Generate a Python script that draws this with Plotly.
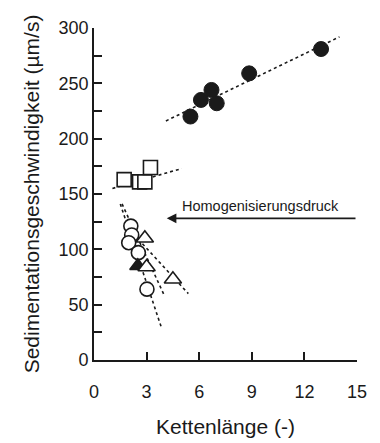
import plotly.graph_objects as go

# Data
black_x = [5.5, 6.1, 6.7, 7.0, 8.85, 12.95]
black_y = [220, 235, 244, 232, 259, 281]

square_x = [1.72, 2.6, 2.9, 3.22]
square_y = [163, 161, 161, 174]

circle_x = [2.1, 2.15, 1.98, 2.53, 3.02]
circle_y = [121, 113, 106, 97, 64]

tri_x = [2.9, 3.0, 4.5]
tri_y = [110, 84, 73]

tri_fill_x = [2.5]
tri_fill_y = [85]

# Fit lines (start/end points)
line_black_x = [4.1, 14.0]
line_black_y = [216, 292]
line_square_x = [1.05, 5.0]
line_square_y = [155, 173]
line_circle_x = [1.5, 3.83]
line_circle_y = [141, 30]
line_mid_x = [1.6, 4.02]
line_mid_y = [141, 58]
line_tri_x = [2.3, 5.38]
line_tri_y = [113, 60]

arrow_x = [15.0, 4.15]
arrow_y = [128, 128]
label_text = "Homogenisierungsdruck"

x_ticks = [0, 3, 6, 9, 12, 15]
y_ticks = [0, 50, 100, 150, 200, 250, 300]

FONT = "Liberation Sans, Arial, sans-serif"
INK = "#1a1a1a"

fig = go.Figure()

for lx, ly in [(line_black_x, line_black_y), (line_square_x, line_square_y),
               (line_circle_x, line_circle_y), (line_mid_x, line_mid_y),
               (line_tri_x, line_tri_y)]:
    fig.add_trace(go.Scatter(x=lx, y=ly, mode="lines",
                             line=dict(color=INK, width=1.6, dash="dot"),
                             hoverinfo="skip", showlegend=False))

fig.add_trace(go.Scatter(x=square_x, y=square_y, mode="markers",
                         marker=dict(symbol="square", size=14, color="white",
                                     line=dict(color=INK, width=1.6)),
                         showlegend=False))
fig.add_trace(go.Scatter(x=circle_x, y=circle_y, mode="markers",
                         marker=dict(symbol="circle", size=14, color="white",
                                     line=dict(color=INK, width=1.6)),
                         showlegend=False))
fig.add_trace(go.Scatter(x=tri_fill_x, y=tri_fill_y, mode="markers",
                         marker=dict(symbol="triangle-up", size=14, color=INK,
                                     line=dict(color=INK, width=1.6)),
                         showlegend=False))
fig.add_trace(go.Scatter(x=tri_x, y=tri_y, mode="markers",
                         marker=dict(symbol="triangle-up", size=15, color="white",
                                     line=dict(color=INK, width=1.6)),
                         showlegend=False))
fig.add_trace(go.Scatter(x=black_x, y=black_y, mode="markers",
                         marker=dict(symbol="circle", size=15, color=INK,
                                     line=dict(color=INK, width=1)),
                         showlegend=False))

fig.add_annotation(x=arrow_x[1], y=arrow_y[1], ax=arrow_x[0], ay=arrow_y[0],
                   xref="x", yref="y", axref="x", ayref="y",
                   text="", showarrow=True, arrowhead=2, arrowsize=1.2,
                   arrowwidth=1.6, arrowcolor=INK)
fig.add_annotation(x=(arrow_x[0] + arrow_x[1]) / 2 - 0.1, y=arrow_y[0] + 11,
                   xref="x", yref="y", text=label_text, showarrow=False,
                   font=dict(family=FONT, size=14.5, color=INK))

fig.update_layout(
    width=380, height=443,
    margin=dict(l=94, r=23, t=28, b=83),
    paper_bgcolor="white", plot_bgcolor="white",
    font=dict(family=FONT, color=INK),
    xaxis=dict(range=[0, 15], tickvals=x_ticks, ticks="inside", ticklen=8,
               tickwidth=1.5, tickcolor=INK, showline=True, linecolor=INK,
               linewidth=1.6, showgrid=False, zeroline=False, automargin=False,
               ticklabelstandoff=15,
               tickfont=dict(size=18, family=FONT, color=INK),
               title=dict(text="Kettenlänge (-)", standoff=18,
                          font=dict(size=21, family=FONT, color=INK))),
    yaxis=dict(range=[0, 300], tickvals=y_ticks, ticks="inside", ticklen=8,
               tickwidth=1.5, tickcolor=INK, showline=True, linecolor=INK,
               linewidth=1.6, showgrid=False, zeroline=False, automargin=False,
               minor=dict(dtick=25, ticks="inside", ticklen=8, tickwidth=1.5,
                          tickcolor=INK, showgrid=False),
               tickfont=dict(size=18, family=FONT, color=INK),
               title=dict(text="Sedimentationsgeschwindigkeit (µm/s)", standoff=13,
                          font=dict(size=21, family=FONT, color=INK))),
)

fig.write_html("out.html")
